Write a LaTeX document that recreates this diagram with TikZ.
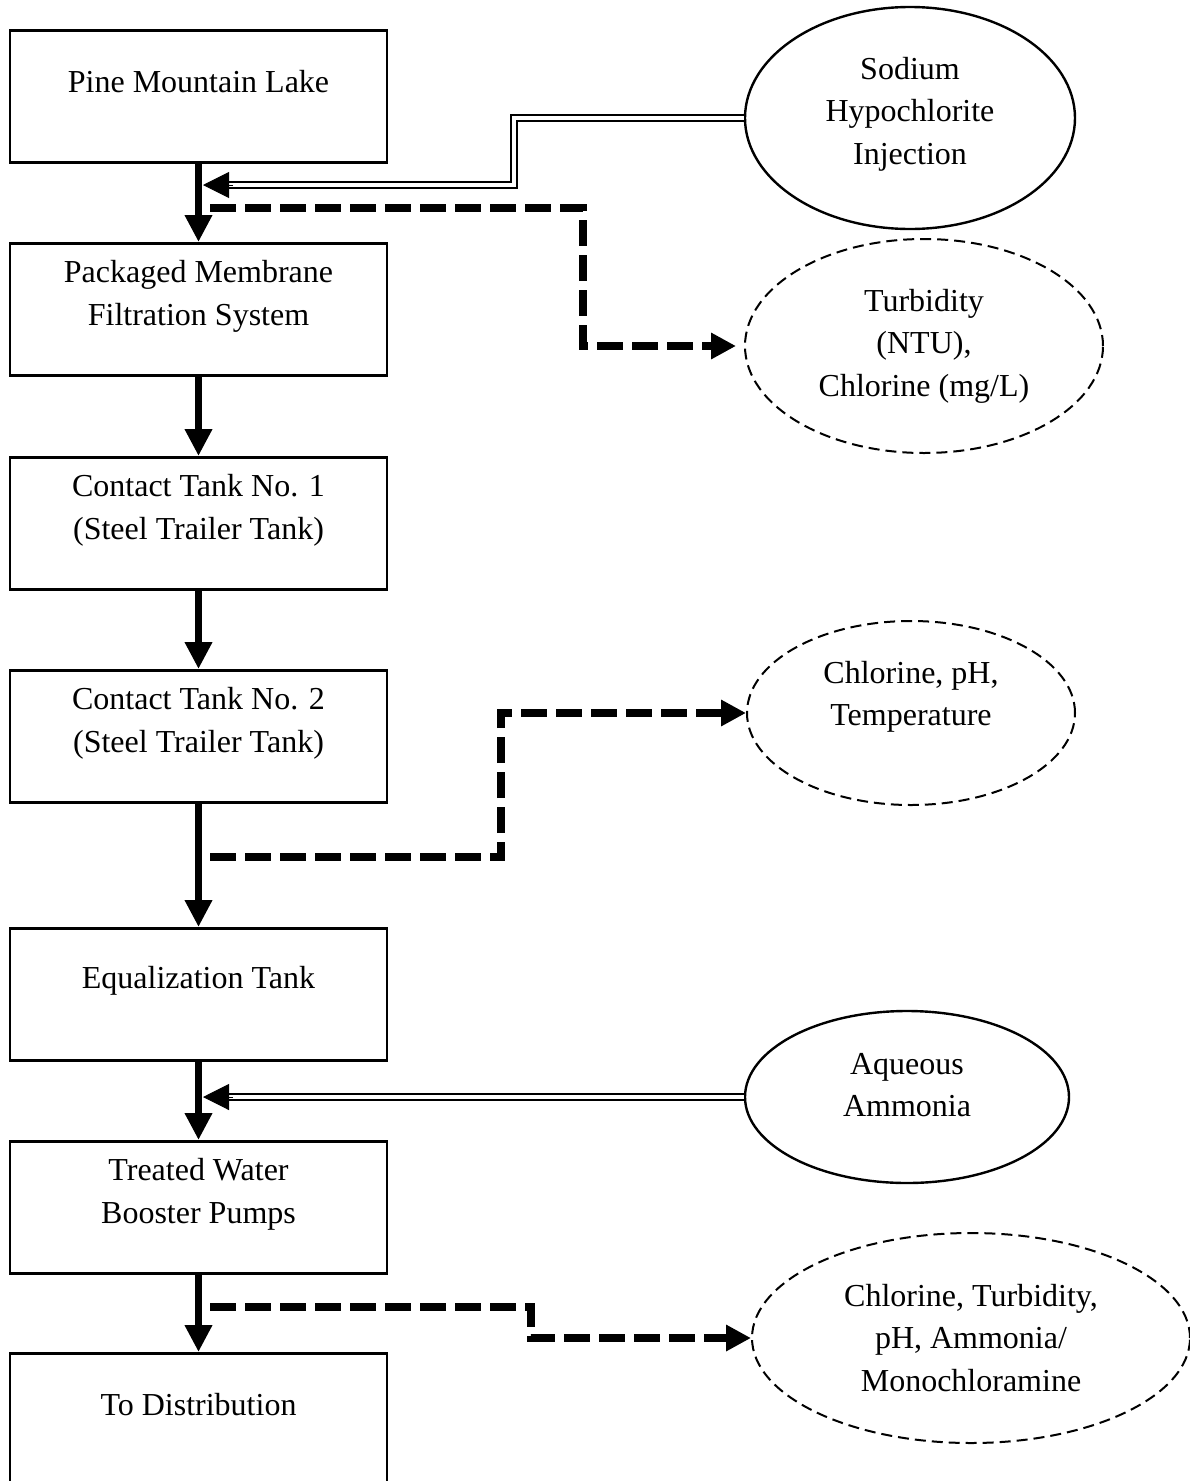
\documentclass[tikz,border=0pt]{standalone}
\usepackage{fontspec}
\setmainfont{Liberation Serif}
\usetikzlibrary{shapes.geometric,arrows.meta}
\begin{document}
\begin{tikzpicture}[x=1pt,y=-1pt,
  every node/.style={font=\fontsize{32}{42.5}\selectfont},
  lbl/.style={align=center, inner sep=0pt},
  box/.style={draw, line width=2.6pt, minimum width=377pt, minimum height=132pt, inner sep=0pt, anchor=north},
  ell/.style={draw, ellipse, line width=2.4pt, inner sep=0pt},
  dell/.style={draw, ellipse, line width=2pt, dash pattern=on 11pt off 6pt, inner sep=0pt},
  flow/.style={line width=7pt, -{Triangle[length=27pt,width=26pt]}},
  dsh/.style={line width=7.5pt, dash pattern=on 26pt off 9pt, -{Triangle[length=25pt,width=25pt]}},
  dbl/.style={line width=2pt, double distance=3.5pt},
  dtip/.style={line width=1pt, -{Triangle[length=26pt,width=26pt]}}
]
\useasboundingbox[fill=white] (0,0) rectangle (1190,1481);

% process boxes
\node[box, label={[lbl, yshift=15pt]center:Pine Mountain Lake}] (b1) at (198.5,29) {};
\node[box, label={[lbl, yshift=13pt]center:Packaged Membrane\\Filtration System}] (b2) at (198.5,242) {};
\node[box, label={[lbl, yshift=13pt]center:Contact Tank No. 1\\(Steel Trailer Tank)}] (b3) at (198.5,456) {};
\node[box, label={[lbl, yshift=13pt]center:Contact Tank No. 2\\(Steel Trailer Tank)}] (b4) at (198.5,669) {};
\node[box, label={[lbl, yshift=14pt]center:Equalization Tank}] (b5) at (198.5,927) {};
\node[box, label={[lbl, yshift=13pt]center:Treated Water\\Booster Pumps}] (b6) at (198.5,1140) {};
\node[box, label={[lbl, yshift=15pt]center:To Distribution}] (b7) at (198.5,1352) {};

% side ellipses
\node[ell, minimum width=330pt, minimum height=222pt, label={[lbl, yshift=4pt]center:Sodium\\Hypochlorite\\Injection}] (sod) at (910,118) {};
\node[dell, minimum width=358pt, minimum height=214pt, label={[lbl]center:Turbidity\\(NTU),\\Chlorine (mg/L)}] (tur) at (924,346) {};
\node[dell, minimum width=328pt, minimum height=184pt, label={[lbl, yshift=16pt]center:Chlorine, pH,\\Temperature}] (tem) at (911,713) {};
\node[ell, minimum width=324pt, minimum height=172pt, label={[lbl, yshift=12pt]center:Aqueous\\Ammonia}] (amm) at (907,1097) {};
\node[dell, minimum width=438pt, minimum height=210pt, label={[lbl]center:Chlorine, Turbidity,\\pH, Ammonia/\\Monochloramine}] (mon) at (971,1338) {};

% main flow
\draw[flow] (b1.south) -- (b2.north);
\draw[flow] (b2.south) -- (b3.north);
\draw[flow] (b3.south) -- (b4.north);
\draw[flow] (b4.south) -- (b5.north);
\draw[flow] (b5.south) -- (b6.north);
\draw[flow] (b6.south) -- (b7.north);

% chemical injections (double lines)
\coordinate (t1) at (203,185);
\coordinate (t2) at (203,1097);
\draw[dbl, shorten >=24pt] (sod.west) -| (514,185) -- (t1);
\draw[dtip] ([xshift=30pt]t1) -- (t1);
\draw[dbl, shorten >=24pt] (amm.west) -- (t2);
\draw[dtip] ([xshift=30pt]t2) -- (t2);

% sampling points (dashed)
\coordinate (s1) at (210,208);
\coordinate (s2) at (210,857);
\coordinate (s3) at (210,1307);
\draw[dsh, shorten >=8pt] (s1) -- (583,208) |- (tur.west);
\draw[dsh] (s2) -- (501,857) |- (tem.west);
\draw[dsh] (s3) -- (531,1307) |- (mon.west);
\end{tikzpicture}
\end{document}
